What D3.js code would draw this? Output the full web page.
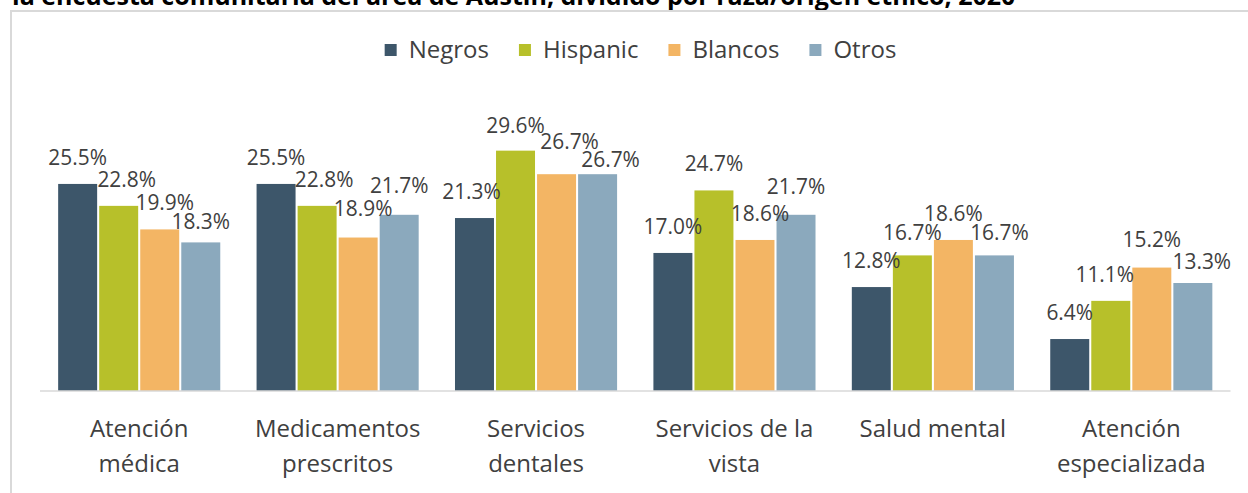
<!DOCTYPE html>
<html><head><meta charset="utf-8">
<script src="https://cdn.jsdelivr.net/npm/d3@7/dist/d3.min.js"></script>
<style>
body{margin:0;background:#fff;overflow:hidden}
svg{display:block}
text{font-family:"Open Sans","Noto Sans",sans-serif}
</style>
</head><body>
<svg id="chart" width="1248" height="493"></svg>
<script>
// ---- data ----
const title = "la encuesta comunitaria del área de Austin, dividido por raza/origen étnico, 2020";
const categories = ["Atención médica", "Medicamentos prescritos", "Servicios dentales", "Servicios de la vista", "Salud mental", "Atención especializada"];
const seriesNames = ["Negros", "Hispanic", "Blancos", "Otros"];
const negros   = [25.5, 25.5, 21.3, 17.0, 12.8, 6.4];
const hispanic = [22.8, 22.8, 29.6, 24.7, 16.7, 11.1];
const blancos  = [19.9, 18.9, 26.7, 18.6, 18.6, 15.2];
const otros    = [18.3, 21.7, 26.7, 21.7, 16.7, 13.3];
const seriesValues = [negros, hispanic, blancos, otros];

// ---- style ----
const colors = ["#3d566a", "#b7c02a", "#f3b564", "#8ba9bd"];
// small manual nudges of data labels [dx, dy] (as placed in the original), per category then series
const labelNudges = [
  [[0,0],[8,0],[5,0],[0,6]],
  [[0,0],[7,0],[5,-3],[0,-3]],
  [[-3,0],[0,1],[13,-6],[13,12]],
  [[0,0],[0,0],[5,0],[0,-2]],
  [[0,0],[0,4],[0,0],[5,4]],
  [[0,0],[-6,0],[0,-2],[9,5]]
];

const svg = d3.select("#chart");
const W = 1248, H = 493;
const plot = {left: 40, right: 1230.5, bottom: 391};

// title (cut off at top as in the original)
svg.append("text").attr("x", 12).attr("y", 5)
  .attr("font-size", 25).attr("font-weight", "bold").attr("fill", "#000")
  .text(title);

// frame
svg.append("rect").attr("x", 11).attr("y", 11).attr("width", W + 20).attr("height", H + 20)
  .attr("fill", "none").attr("stroke", "#d9d9d9").attr("stroke-width", 2);

const x0 = d3.scaleBand().domain(categories).range([plot.left, plot.right])
  .paddingInner(0.183).paddingOuter(0.0915);
const x1 = d3.scaleBand().domain(seriesNames).range([0, x0.bandwidth()]).padding(0.05).paddingOuter(0);
const y = d3.scaleLinear().domain([0, 35]).range([plot.bottom, plot.bottom - 35 * 8.12]);

const rows = categories.map((c, ci) => ({
  cat: c,
  vals: seriesNames.map((s, si) => ({cat: c, ci, s, si, v: seriesValues[si][ci]}))
}));

const groups = svg.append("g").selectAll("g").data(rows).join("g")
  .attr("transform", d => `translate(${x0(d.cat)},0)`);

groups.selectAll("rect").data(d => d.vals).join("rect")
  .attr("x", d => x1(d.s))
  .attr("width", x1.bandwidth())
  .attr("y", d => y(d.v))
  .attr("height", d => y(0) - y(d.v))
  .attr("fill", (d) => colors[d.si]);

// axis line
svg.append("line").attr("x1", plot.left).attr("x2", plot.right)
  .attr("y1", plot.bottom).attr("y2", plot.bottom)
  .attr("stroke", "#d9d9d9").attr("stroke-width", 1.5);

// data labels
groups.selectAll("g.lbl").data(d => d.vals).join("g").attr("class", "lbl")
  .attr("transform", d => {
    const n = labelNudges[d.ci][d.si];
    return `translate(${x1(d.s) + x1.bandwidth() / 2 + n[0]},${y(d.v) - 19 + n[1]}) scale(0.95,1)`;
  })
  .append("text")
  .attr("text-anchor", "middle")
  .attr("font-size", 22)
  .attr("fill", "#404040")
  .text(d => d3.format(".1f")(d.v) + "%");

// category labels with wrapping
const maxW = x0.step() - 16;
const catText = svg.append("g").selectAll("text").data(categories).join("text")
  .attr("text-anchor", "middle")
  .attr("font-size", 24)
  .attr("fill", "#404040")
  .attr("x", d => x0(d) + x0.bandwidth() / 2)
  .attr("y", 437);
catText.each(function(d) {
  const t = d3.select(this);
  const words = d.split(" ");
  let lines = [], cur = [];
  const probe = t.append("tspan");
  words.forEach(w => {
    const test = cur.concat([w]).join(" ");
    probe.text(test);
    if (probe.node().getComputedTextLength() > maxW && cur.length) {
      lines.push(cur.join(" "));
      cur = [w];
    } else cur.push(w);
  });
  lines.push(cur.join(" "));
  probe.remove();
  lines.forEach((l, i) => {
    t.append("tspan").attr("x", t.attr("x")).attr("dy", i === 0 ? 0 : 35).text(l);
  });
});

// legend
const legend = svg.append("g");
let lx = 0;
seriesNames.forEach((s, i) => {
  const g = legend.append("g").attr("transform", `translate(${lx},0)`);
  g.append("rect").attr("x", 0).attr("y", 44).attr("width", 12).attr("height", 12).attr("fill", colors[i]);
  const t = g.append("text").attr("x", 24).attr("y", 58).attr("font-size", 24).attr("fill", "#404040").text(s);
  lx += 24 + t.node().getComputedTextLength() + 30;
});
const legW = lx - 30;
legend.attr("transform", `translate(${640.5 - legW / 2},0)`);
</script>
</body></html>
